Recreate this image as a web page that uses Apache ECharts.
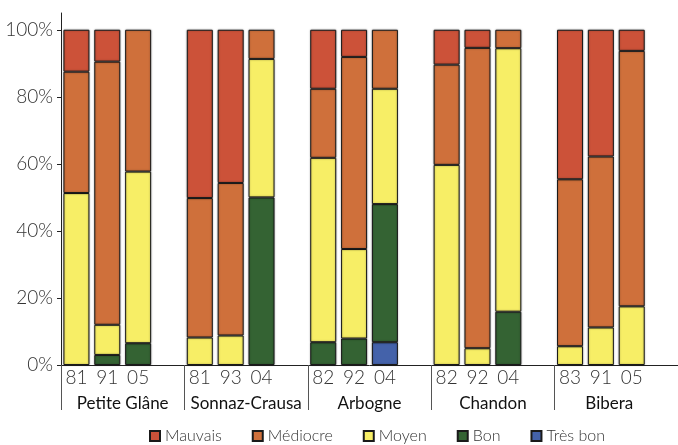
<!DOCTYPE html>
<html>
<head>
<meta charset="utf-8">
<script src="https://cdn.jsdelivr.net/npm/echarts@6/dist/echarts.min.js"></script>
<style>html,body{margin:0;padding:0;background:#fff}#c{width:678px;height:445px}</style>
</head>
<body>
<div id="c"></div>
<script>
// Years per bar (15 bars, 5 groups of 3)
const years = ['81','91','05','81','93','04','82','92','04','82','92','04','83','91','05'];
const groups = ['Petite Glâne','Sonnaz-Crausa','Arbogne','Chandon','Bibera'];
const yTicks = [0,20,40,60,80,100];
// Percent values per class (bottom to top stacking: Très bon, Bon, Moyen, Médiocre, Mauvais)
const tresBon  = [0,   0,   0,    0,    0,    0,    0,    0,    6.8,  0,    0,    0,    0,    0,    0];
const bon      = [0,   3,   6.5,  0,    0,    50,   6.8,  7.9,  41.2, 0,    0,    15.9, 0,    0,    0];
const moyen    = [51.3,9,   51.2, 8.2,  8.8,  41.3, 55,   26.7, 34.4, 59.7, 5,    78.6, 5.6,  11.2, 17.5];
const mediocre = [36.2,78.5,42.3, 41.6, 45.5, 8.7,  20.6, 57.3, 17.6, 29.9, 89.6, 5.5,  49.8, 51,   76.2];
const mauvais  = [12.5,9.5, 0,    50.2, 45.7, 0,    17.6, 8.1,  0,    10.4, 5.4,  0,    44.6, 37.8, 6.3];

// expand to 20 categories: 3 bars + 1 spacer per group
function expand(arr, filler) {
  const out = [];
  for (let g = 0; g < 5; g++) {
    for (let k = 0; k < 3; k++) {
      const v = arr[g*3+k];
      out.push(v === 0 ? '-' : v);
    }
    out.push(filler);
  }
  return out;
}
const cats = [];
for (let g = 0; g < 5; g++) { for (let k = 0; k < 3; k++) cats.push(years[g*3+k]); cats.push(''); }

const colors = {
  'Mauvais': '#cc5239',
  'Médiocre': '#cf703b',
  'Moyen': '#f7ee66',
  'Bon': '#346333',
  'Très bon': '#4462aa'
};
function mk(name, arr) {
  return {
    name: name, type: 'bar', stack: 't', barWidth: 26,
    data: expand(arr, '-'),
    itemStyle: { color: colors[name], borderColor: '#1a1a1a', borderWidth: 1,
      shadowColor: 'rgba(0,0,0,0.35)', shadowBlur: 2 },
    emphasis: { disabled: true }
  };
}
const chart = echarts.init(document.getElementById('c'));
chart.setOption({
  animation: false,
  grid: { left: 61, right: -13, top: 13, bottom: 80 },
  legend: {
    data: ['Mauvais','Médiocre','Moyen','Bon','Très bon'],
    left: 144, top: 423, icon: 'rect', itemWidth: 10, itemHeight: 10, itemGap: 30,
    textStyle: { fontFamily: 'Lato', fontSize: 16, fontWeight: 300, color: '#333' }
  },
  xAxis: [{
    type: 'category', data: cats,
    axisLine: { lineStyle: { color: '#222', width: 1 } },
    axisTick: { show: true, interval: function (i) { return i % 4 === 0; }, length: 45,
      lineStyle: { color: '#555', width: 1 } },
    axisLabel: { interval: 0, margin: 3, fontFamily: 'Lato', fontSize: 19, fontWeight: 300, color: '#333' }
  }, {
    type: 'category', position: 'bottom',
    data: groups.map(function (g, i) { return i === 4 ? { value: g, textStyle: { padding: [0, 14, 0, 0] } } : g; }),
    axisLine: { show: false }, axisTick: { show: false },
    axisLabel: { interval: 0, margin: 30, fontFamily: 'Lato', fontSize: 17, color: '#111' }
  }],
  yAxis: {
    type: 'value', min: 0, max: 105, interval: 20,
    splitLine: { show: false },
    axisLine: { show: true, lineStyle: { color: '#222', width: 1 } },
    axisTick: { show: true, length: 4, customValues: yTicks, lineStyle: { color: '#222' } },
    axisLabel: { customValues: yTicks, margin: 8, fontFamily: 'Lato', fontSize: 19, fontWeight: 300, color: '#333',
      formatter: function (v) { return v + '%'; } }
  },
  series: [mk('Très bon', tresBon), mk('Bon', bon), mk('Moyen', moyen), mk('Médiocre', mediocre), mk('Mauvais', mauvais)]
});
</script>
</body>
</html>
